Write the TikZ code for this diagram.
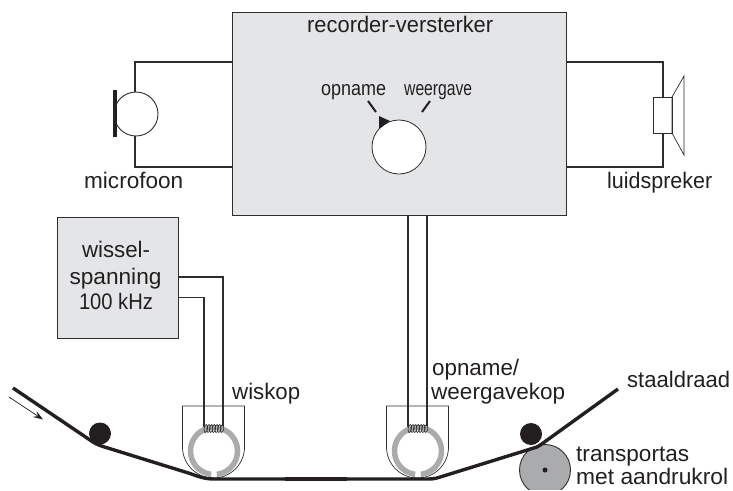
\documentclass[tikz,border=0pt]{standalone}
\usepackage{fontspec}
\usepackage{graphicx}
\setmainfont{Liberation Sans}
\usetikzlibrary{arrows.meta}
\newcommand\fitw[2]{\resizebox{#1pt}{\height}{#2}}
\definecolor{boxgray}{HTML}{E4E5E7}
\definecolor{ringgray}{HTML}{A9ABAD}
\definecolor{wirecol}{HTML}{2E2C2D}
\definecolor{inkcol}{HTML}{231F20}
\tikzset{
  wire/.style={draw=wirecol,line width=1.1pt},
  thinline/.style={draw=wirecol,line width=0.7pt},
  graybox/.style={draw=wirecol,line width=0.9pt,fill=boxgray,inner sep=0pt},
  lbl/.style={text=inkcol,inner sep=0pt,font=\fontsize{22.5}{26}\selectfont},
  condlbl/.style={text=inkcol,inner sep=0pt,font=\fontsize{20.5}{24}\selectfont},
  disc/.style={circle,inner sep=0pt},
  tapeline/.style={draw=inkcol,line width=3.4pt,line join=round},
  tapehead/.pic={
    \draw[thinline] (-31.5,-45)--(30.5,-45)--(30.5,-4)
      -- plot[domain=0:180,samples=40] ({-0.5+31*cos(\x)},{-4+31*sin(\x)})--cycle;
    \draw[draw=ringgray,line width=5.5pt] plot[domain=97:443,samples=70] ({23.5*cos(\x)},{23.5*sin(\x)});
    \foreach \k in {0,...,6}
      \draw[draw=wirecol,line width=0.65pt,rotate around={-8:(-8.2+2.7*\k,-22.5)}]
        (-8.2+2.7*\k,-22.5) ellipse[x radius=1.7,y radius=4];
  }
}
\begin{document}
\begin{tikzpicture}[x=1pt,y=-1pt]
\useasboundingbox (0,0) rectangle (733,490);
\node[graybox,minimum width=333.5pt,minimum height=203pt] (amp) at (399.2,113.5) {};
\node[graybox,minimum width=121pt,minimum height=121pt] (osc) at (117.5,277.5) {};
\node[draw=wirecol,line width=0.9pt,fill=white,inner sep=0pt,minimum width=19pt,minimum height=36pt] (spk) at (662.5,115) {};
\coordinate (ampTL) at (amp.east |- 0,62);
\coordinate (ampBL) at (amp.east |- 0,167);
\coordinate (ampTR) at (amp.west |- 0,62);
\coordinate (ampBR) at (amp.west |- 0,167);
\draw[wire] (ampTR) -- (135,62) -- (135,92);
\draw[wire] (ampBR) -- (135,167) -- (135,136);
\draw[wire] (ampTL) -- (663,62) -- (663,97);
\draw[wire] (ampBL) -- (663,167) -- (663,133);
\fill[inkcol] (113,90) rectangle (117,137);
\node[disc,draw=wirecol,line width=0.9pt,minimum size=44pt] (mic) at (136,114) {};
\draw[thinline,line join=miter] (672,97) -- (684,76) -- (684,155) -- (672,133) -- cycle;
% knob
\node[disc,draw=wirecol,line width=0.8pt,fill=white,minimum size=54pt] (knob) at (399,147) {};
\fill[inkcol] (379,116) -- (390,121) -- (379,129) -- cycle;
\draw[inkcol,line width=2pt] (368,101) -- (376,112);
\draw[inkcol,line width=2pt] (430,101) -- (422,112);
% head wires
\coordinate (oscA) at (osc.east |- 0,277);
\coordinate (oscB) at (osc.east |- 0,297.5);
\draw[wire] (oscA) -- (223,277) -- (223,427);
\draw[wire] (oscB) -- (204,297.5) -- (204,433);
\coordinate (ampS1) at (amp.south -| 408,0);
\coordinate (ampS2) at (amp.south -| 427,0);
\draw[wire] (ampS1) -- (408,433);
\draw[wire] (ampS2) -- (427,427);
\pic at (214,451) {tapehead};
\pic at (418,451) {tapehead};
% transport roller
\begin{scope}
\clip (500,430) rectangle (600,489);
\node[disc,draw=wirecol,line width=0.9pt,fill=ringgray,minimum size=51pt] (roller) at (545,470) {};
\end{scope}
\node[disc,fill=inkcol,minimum size=5pt] (axle) at (545,470) {};
% tape
\draw[tapeline] (13,388) -- (90,440) .. controls (94,443) and (98,445) .. (103,446.5) -- (190,473.5)
  .. controls (197,476) and (204,479) .. (214,479) -- (428,479) .. controls (431,479) and (434,478.8) .. (437,478)
  -- (537,447) -- (541,444.5) -- (618,389);
\draw[inkcol,line width=4.3pt] (285,479.2) -- (347,479.2);
\node[disc,fill=inkcol,minimum size=22pt] (rollA) at (100,433.5) {};
\node[disc,fill=inkcol,minimum size=22pt] (rollB) at (531,434) {};
\draw[inkcol,line width=0.7pt,-{Stealth[length=10pt,width=7pt,inset=4pt]}] (9,397) -- (43,419.5);
% labels
\node[lbl,anchor=base west] (tamp) at (307,32.5) {\fitw{186}{recorder-versterker}};
\node[condlbl,anchor=base west] (topn) at (321,95) {\fitw{65}{opname}};
\node[condlbl,anchor=base west] (tweer) at (404,95) {\fitw{68}{weergave}};
\node[lbl,anchor=base west] (tmic) at (84,188.5) {\fitw{99}{microfoon}};
\node[lbl,anchor=base west] (tspk) at (607,188.5) {\fitw{105}{luidspreker}};
\node[lbl,anchor=base] (t1) at (116,257) {\fitw{68}{wissel-}};
\node[lbl,anchor=base] (t2) at (115.5,284.5) {\fitw{92}{spanning}};
\node[lbl,anchor=base] (t3) at (116,309) {\fitw{74}{100 kHz}};
\node[lbl,anchor=base west] (twis) at (232,399) {\fitw{68}{wiskop}};
\node[lbl,anchor=base west] (top) at (432,375.5) {\fitw{87}{opname/}};
\node[lbl,anchor=base west] (twg) at (431,399.5) {\fitw{134}{weergavekop}};
\node[lbl,anchor=base west] (tst) at (627,387) {\fitw{103}{staaldraad}};
\node[lbl,anchor=base west] (ttr) at (576,461) {\fitw{113}{transportas}};
\node[lbl,anchor=base west] (tmet) at (576,484) {\fitw{152}{met aandrukrol}};
\end{tikzpicture}
\end{document}
